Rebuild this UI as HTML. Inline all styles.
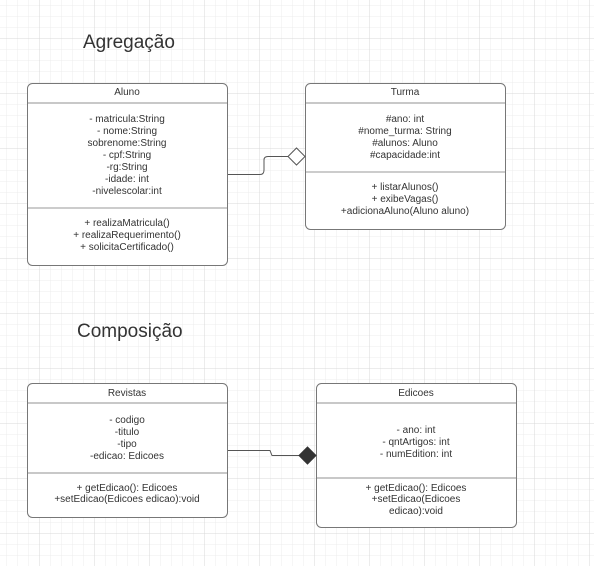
<!DOCTYPE html>
<html><head><meta charset="utf-8"><style>
html,body{margin:0;padding:0;width:594px;height:566px;overflow:hidden;background:#fff}
</style></head><body>
<svg width="594" height="566" xmlns="http://www.w3.org/2000/svg" font-family="Liberation Sans, sans-serif">
<defs>
<pattern id="minor" x="6" y="5" width="11" height="11" patternUnits="userSpaceOnUse">
<path d="M0 0V11M0 0H11" stroke="#ececec" stroke-width="1" fill="none"/>
</pattern>
<pattern id="major" x="39" y="38" width="55" height="55" patternUnits="userSpaceOnUse">
<path d="M0 0V55M0 0H55" stroke="#d8d8d8" stroke-width="1" fill="none"/>
</pattern>
</defs>
<rect width="594" height="566" fill="url(#minor)"/>
<rect width="594" height="566" fill="url(#major)"/>

<text x="83" y="48" font-size="19" fill="#333">Agregação</text>
<text x="77" y="337" font-size="19" fill="#333">Composição</text>

<g fill="#fff" stroke="#777" stroke-width="1">
<rect x="27.5" y="83.5" width="200" height="182" rx="5"/>
<rect x="305.5" y="83.5" width="200" height="146" rx="5"/>
<rect x="27.5" y="383.5" width="200" height="134" rx="5"/>
<rect x="316.5" y="383.5" width="200" height="144" rx="5"/>
</g>
<g stroke="#c8c8c8" stroke-width="2">
<line x1="28" y1="103" x2="227" y2="103"/>
<line x1="28" y1="208" x2="227" y2="208" stroke="#999" stroke-width="1"/>
<line x1="306" y1="103" x2="505" y2="103"/>
<line x1="306" y1="172" x2="505" y2="172" stroke="#999" stroke-width="1"/>
<line x1="28" y1="403" x2="227" y2="403"/>
<line x1="28" y1="473" x2="227" y2="473"/>
<line x1="317" y1="403" x2="516" y2="403"/>
<line x1="317" y1="478" x2="516" y2="478"/>
</g>

<path d="M228 174.5H260Q264 174.5 264 170V160Q264 156.5 268 156.5H288" fill="none" stroke="#555"/>
<path d="M288 156.5L296.5 148L305 156.5L296.5 165Z" fill="#fff" stroke="#555"/>
<path d="M228 450.5H270L272 455.5H299" fill="none" stroke="#555"/>
<path d="M299 455.5L307.5 447L316 455.5L307.5 464Z" fill="#333" stroke="#333"/>

<g font-size="10" fill="#333" text-anchor="middle">
<text x="127" y="95">Aluno</text>
<text x="127" y="122">- matricula:String</text>
<text x="127" y="134">-  nome:String</text>
<text x="127" y="146">sobrenome:String</text>
<text x="127" y="158">- cpf:String</text>
<text x="127" y="170">-rg:String</text>
<text x="127" y="182">-idade:  int</text>
<text x="127" y="194">-nivelescolar:int</text>
<text x="127" y="226">+ realizaMatricula()</text>
<text x="127" y="238">+ realizaRequerimento()</text>
<text x="127" y="250">+ solicitaCertificado()</text>

<text x="405" y="95">Turma</text>
<text x="405" y="122">#ano: int</text>
<text x="405" y="134">#nome_turma: String</text>
<text x="405" y="146">#alunos: Aluno</text>
<text x="405" y="158">#capacidade:int</text>
<text x="405" y="190">+ listarAlunos()</text>
<text x="405" y="202">+ exibeVagas()</text>
<text x="405" y="214">+adicionaAluno(Aluno aluno)</text>

<text x="127" y="396">Revistas</text>
<text x="127" y="423">- codigo</text>
<text x="127" y="435">-titulo</text>
<text x="127" y="447">-tipo</text>
<text x="127" y="459">-edicao:  Edicoes</text>
<text x="127" y="491">+ getEdicao(): Edicoes</text>
<text x="127" y="502">+setEdicao(Edicoes edicao):void</text>

<text x="416" y="396">Edicoes</text>
<text x="416" y="433">- ano: int</text>
<text x="416" y="445">- qntArtigos: int</text>
<text x="416" y="457">- numEdition: int</text>
<text x="416" y="491">+ getEdicao(): Edicoes</text>
<text x="416" y="502">+setEdicao(Edicoes</text>
<text x="416" y="514">edicao):void</text>
</g>
</svg>
</body></html>
